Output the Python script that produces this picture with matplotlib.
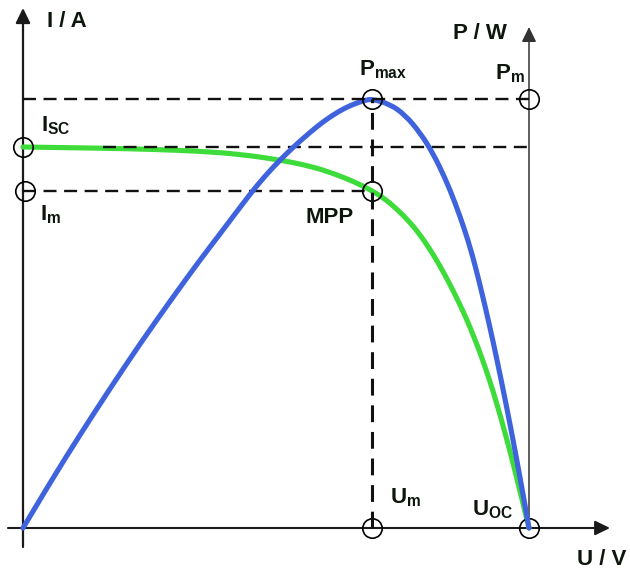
import matplotlib.pyplot as plt
from matplotlib.path import Path
from matplotlib.patches import PathPatch

# values, in % of U_oc, I_sc and P_max
u_iv = [0, 15.8, 25.1, 35.0, 42.9, 50.8, 56.7, 61.3, 65.6, 69.0, 71.5, 73.9, 76.5, 78.5,
        80.4, 82.4, 84.4, 86.4, 87.8, 89.1, 90.3, 91.7, 92.9, 94.5, 96.2, 98.0, 100]
i_iv = [100, 99.7, 99.4, 98.9, 98.1, 96.6, 95.0, 93.1, 90.8, 88.5, 86.4, 83.7, 80.2, 76.9,
        73.2, 68.8, 63.9, 58.5, 54.4, 50.2, 46.1, 40.8, 35.9, 28.7, 20.4, 10.9, 0]

u_pv = [0, 5.3, 11.3, 17.2, 23.1, 29.5, 35.0, 38.9, 44.9, 47.8, 50.8, 53.8, 56.7, 59.1,
        61.3, 63.6, 65.8, 67.6, 69.0, 72.5, 75.5, 78.5, 81.0, 83.4, 85.4, 87.2, 88.7,
        90.1, 91.5, 92.9, 94.7, 96.4, 98.2, 100]
p_pv = [0, 10.5, 21.8, 32.5, 42.9, 53.6, 62.5, 68.5, 77.9, 82.0, 85.8, 89.2, 92.2, 94.5,
        96.3, 97.9, 99.0, 99.7, 100, 98.8, 96.3, 92.1, 87.4, 81.6, 75.8, 69.8, 64.1,
        57.7, 50.8, 43.5, 33.4, 23.3, 12.0, 0]

U_OC, I_SC, P_MAX = 100, 100, 100
U_M, I_M = 69.0, 88.5

# layout in pixels of the 630x572 picture
W, H = 630, 572
X0, Y0 = 23, 528          # origin
X_UOC, Y_ISC, Y_PMAX = 529, 147, 99
u_px = U_OC / (X_UOC - X0)
i_px = I_SC / (Y0 - Y_ISC)
p_px = P_MAX / (Y0 - Y_PMAX)

BLUE = '#3f63dc'
GREEN = '#3edc3a'
INK = '#0c160c'

plt.rcParams['font.family'] = ['Liberation Sans', 'DejaVu Sans']
plt.rcParams['mathtext.fontset'] = 'custom'
plt.rcParams['mathtext.rm'] = 'Liberation Sans:bold'
plt.rcParams['mathtext.it'] = 'Liberation Sans:bold'
plt.rcParams['mathtext.bf'] = 'Liberation Sans:bold'


def smooth_line(ax, x, y, **kw):
    # quadratic bezier through the midpoints, the read points act as control points
    verts = [(x[0], y[0])]
    codes = [Path.MOVETO]
    for k in range(1, len(x) - 1):
        verts += [(x[k], y[k]), ((x[k] + x[k + 1]) / 2, (y[k] + y[k + 1]) / 2)]
        codes += [Path.CURVE3, Path.CURVE3]
    verts.append((x[-1], y[-1]))
    codes.append(Path.LINETO)
    ax.add_patch(PathPatch(Path(verts, codes), fill=False, capstyle='round',
                           joinstyle='round', **kw))


fig = plt.figure(figsize=(W / 100, H / 100), dpi=100)
ax = fig.add_axes([0, 0, 1, 1])
ax.set_xlim(-X0 * u_px, (W - X0) * u_px)
ax.set_ylim(-(H - Y0) * i_px, Y0 * i_px)
ax2 = ax.twinx()
ax2.set_ylim(-(H - Y0) * p_px, Y0 * p_px)
ax.axis('off')
ax2.axis('off')

# axes with arrows
arrow = dict(arrowstyle='-|>,head_length=0.45,head_width=0.22', mutation_scale=20,
             shrinkA=0, shrinkB=0)
ax.annotate('', xy=(0, (Y0 - 8) * i_px), xytext=(0, -(547 - Y0) * i_px),
            arrowprops=dict(arrow, color='#1a1a1a', lw=1.6), annotation_clip=False)
ax.annotate('', xy=((610 - X0) * u_px, 0), xytext=(-(X0 - 8) * u_px, 0),
            arrowprops=dict(arrow, color='#1a1a1a', lw=1.5), annotation_clip=False)
ax2.annotate('', xy=(U_OC, (Y0 - 27) * p_px), xytext=(U_OC, 0),
             arrowprops=dict(arrow, color='#333333', lw=1.1), annotation_clip=False)

# curves
smooth_line(ax, u_iv, i_iv, edgecolor=GREEN, lw=3.7, zorder=3)
smooth_line(ax2, u_pv, p_pv, edgecolor=BLUE, lw=3.7, zorder=3)

# guide lines
dash = dict(color='#111111', lw=1.7, linestyle=(0, (5.5, 3.2)), zorder=4)
ax.plot([0, U_M], [I_M, I_M], **dash)
ax.plot([(103 - X0) * u_px, U_OC], [I_SC, I_SC], **dash)
ax2.plot([0, U_OC], [P_MAX, P_MAX], **dash)
ax2.plot([U_M, U_M], [0, P_MAX], color='#111111', lw=2.2, linestyle=(0, (5.5, 3.2)), zorder=4)

# marker circles
circ = dict(marker='o', ms=14, mfc='none', mec='black', mew=1.2, ls='none', zorder=5)
ax.plot([0, 0.4, U_M, U_M, U_OC], [I_SC, I_M, I_M, 0, 0], **circ)
ax2.plot([U_M, U_OC], [P_MAX, P_MAX], **circ)

txt = dict(fontsize=16, fontweight='bold', color=INK, textcoords='offset pixels',
           ha='left', va='baseline', annotation_clip=False)
ax.annotate('I / A', xy=(0, (Y0 - 8) * i_px), xytext=(24, -19), **txt)
ax2.annotate('P / W', xy=(U_OC, (Y0 - 27) * p_px), xytext=(-76, -12), **txt)
ax.annotate('U / V', xy=((610 - X0) * u_px, 0), xytext=(-33, -37), **txt)

ax.annotate(r'$\mathbf{I}_\mathbf{SC}$', xy=(0, I_SC), xytext=(18, 16), **txt)
ax.annotate(r'$\mathbf{I}_\mathbf{m}$', xy=(0, I_M), xytext=(17, -30), **txt)
ax2.annotate(r'$\mathbf{P}_\mathbf{max}$', xy=(U_M, P_MAX), xytext=(-13, 24), **txt)
ax2.annotate(r'$\mathbf{P}_\mathbf{m}$', xy=(U_OC, P_MAX), xytext=(-34, 20), **txt)
ax.annotate('MPP', xy=(U_M, I_M), xytext=(-67, -32), **txt)
ax.annotate(r'$\mathbf{U}_\mathbf{m}$', xy=(U_M, 0), xytext=(18, 25), **txt)
ax.annotate(r'$\mathbf{U}_\mathbf{OC}$', xy=(U_OC, 0), xytext=(-57, 13), **txt)

fig.savefig('out.png', dpi=100)
